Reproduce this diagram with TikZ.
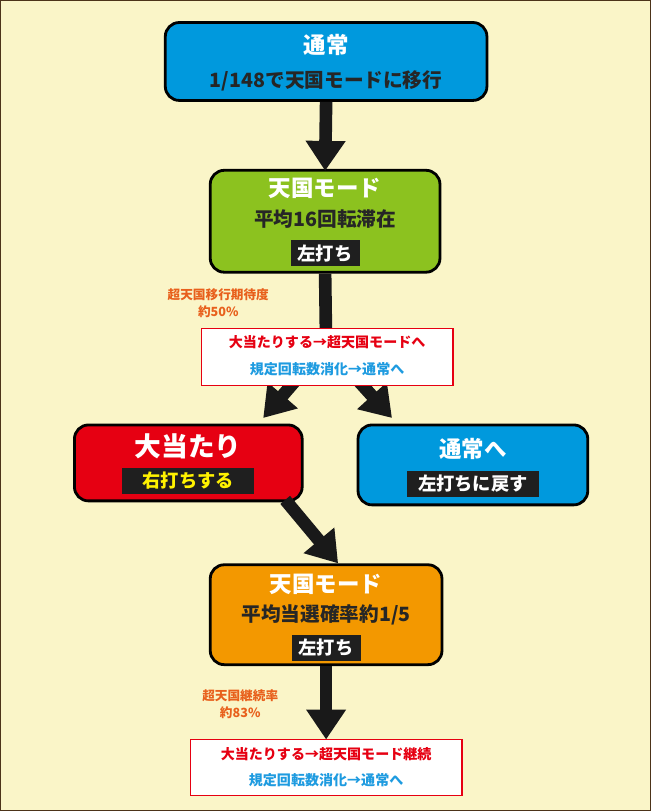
\documentclass[tikz,border=0pt]{standalone}
\usepackage{fontspec}
\setmainfont{Noto Sans CJK JP}
\usetikzlibrary{arrows.meta,positioning}
\definecolor{bgcream}{HTML}{FAF5C8}
\definecolor{skyblue}{HTML}{0099DD}
\definecolor{leafgreen}{HTML}{8CC21F}
\definecolor{hitred}{HTML}{E60012}
\definecolor{tangerine}{HTML}{F39800}
\definecolor{notecol}{HTML}{E8601C}
\definecolor{infoblue}{HTML}{1E9BE0}
\begin{document}
\begin{tikzpicture}[
    x=0.025cm, y=-0.025cm,
    mode/.style={draw=black, line width=2pt, rounded corners=0.35cm, inner sep=0pt},
    title/.style={font=\bfseries\fontsize{16}{19}\selectfont, text=white},
    body/.style={font=\bfseries\fontsize{14}{17}\selectfont, text=black!85},
    tag/.style={fill=black!88, font=\bfseries\fontsize{13}{15}\selectfont, text=white, inner xsep=5pt, inner ysep=3pt},
    note/.style={font=\bfseries\fontsize{9}{12}\selectfont, text=notecol, align=center},
    info/.style={draw=hitred, fill=white, line width=0.8pt, align=center, inner sep=0pt},
    bigarrow/.style={line width=9pt, black!90, -{Triangle[width=0.95cm,length=0.75cm]}}
]
    % background
    \draw[fill=bgcream, draw=black!60!brown, line width=0.8pt] (0,0) rectangle (651,811);

    % boxes
    \node[mode, fill=skyblue, minimum width=8.05cm, minimum height=1.95cm] (normal) at (326,61) {};
    \node[title] (normaltitle) at (326,44) {通常};
    \node[body] (normalline) at (326,80) {1/148で天国モードに移行};

    \node[mode, fill=leafgreen, minimum width=5.75cm, minimum height=2.55cm] (heaven) at (325,221) {};
    \node[title] (heaventitle) at (325,188) {天国モード};
    \node[body] (heavenline) at (325,219) {平均16回転滞在};
    \node[tag] (heaventag) at (325,253) {左打ち};

    \node[mode, fill=hitred, minimum width=5.7cm, minimum height=1.9cm] (jackpot) at (188,463) {};
    \node[title, font=\bfseries\fontsize{19}{22}\selectfont] (jackpottitle) at (188,446) {大当たり};
    \node[tag, text=yellow, minimum width=3.3cm] (jackpottag) at (188,481) {右打ちする};

    \node[mode, fill=skyblue, minimum width=5.75cm, minimum height=2cm] (back) at (473,465) {};
    \node[title] (backtitle) at (473,449) {通常へ};
    \node[tag, minimum width=3.3cm] (backtag) at (473,484) {左打ちに戻す};

    \node[mode, fill=tangerine, minimum width=5.8cm, minimum height=2.5cm] (super) at (326,615) {};
    \node[title] (supertitle) at (326,585) {天国モード};
    \node[body] (superline) at (326,615) {平均当選確率約1/5};
    \node[tag] (supertag) at (326,648) {左打ち};

    % arrows
    \draw[bigarrow] (normal.south) -- ([yshift=-0.05cm]heaven.north);
    \coordinate (split) at (326,345);
    \draw[line width=9pt, black!90] (heaven.south) -- (split);
    \draw[bigarrow] (split) -- (263,418);
    \draw[bigarrow] (split) -- (392,418);
    \draw[bigarrow] (285,500) -- ([xshift=0.3cm]super.north);
    \draw[bigarrow] (super.south) -- (326,740);

    % notes
    \node[note] (chance) at (218,303) {超天国移行期待度\\約50\%};
    \node[info, minimum width=6.3cm, minimum height=1.42cm] (branch) at (327,357) {};
    \node[font=\bfseries\fontsize{10}{12}\selectfont, text=hitred] (branchhit) at (327,342) {大当たりする→超天国モードへ};
    \node[font=\bfseries\fontsize{10}{12}\selectfont, text=infoblue] (branchend) at (327,369) {規定回転数消化→通常へ};

    \node[note] (keep) at (240,705) {超天国継続率\\約83\%};
    \node[info, minimum width=6.8cm, minimum height=1.4cm] (loop) at (326,768) {};
    \node[font=\bfseries\fontsize{10}{12}\selectfont, text=hitred] (loophit) at (326,755) {大当たりする→超天国モード継続};
    \node[font=\bfseries\fontsize{10}{12}\selectfont, text=infoblue] (loopend) at (326,781) {規定回転数消化→通常へ};
\end{tikzpicture}
\end{document}
